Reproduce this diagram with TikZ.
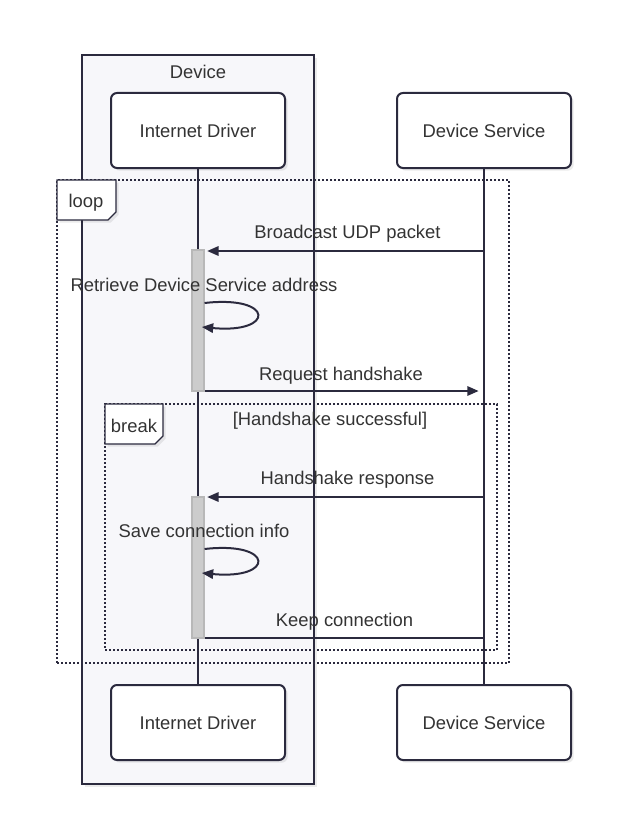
\documentclass[tikz,border=0pt]{standalone}
\usepackage{fontspec}
\setmainfont{Liberation Sans}
\usetikzlibrary{arrows.meta,shadows}
\definecolor{lc}{HTML}{2B2A3E}
\definecolor{tc}{HTML}{333333}
\definecolor{devfill}{HTML}{F7F7FA}
\definecolor{actfill}{HTML}{CCCCCC}
\definecolor{actdraw}{HTML}{B8B8B8}
\newcommand\fsz{\fontsize{13.8}{16.5}\selectfont}
\begin{document}
\begin{tikzpicture}[x=0.75pt,y=-0.75pt,
  softshadow/.style={drop shadow={shadow xshift=2pt,shadow yshift=-2pt,fill=black,opacity=0.08}},
  actorbox/.style={draw=lc, fill=white, line width=1.5pt, rounded corners=4.5pt,
    minimum width=130.5pt, minimum height=56.25pt, inner sep=0pt, font=\fsz, text=tc,
    text height=11pt, text depth=0pt, softshadow},
  devbox/.style={draw=lc, fill=devfill, line width=1.5pt, inner sep=0pt, softshadow},
  frame/.style={draw=lc, line width=1.5pt, dash pattern=on 1.5pt off 1.5pt, inner sep=0pt},
  tab/.style={draw=lc, fill=white, line width=1pt, softshadow},
  lbl/.style={font=\fsz, text=tc, inner sep=0pt, text height=11pt, text depth=0pt},
  lifeline/.style={draw=lc, line width=1.5pt},
  actbar/.style={draw=actdraw, fill=actfill, line width=0.8pt, minimum width=9pt, inner sep=0pt},
  msg/.style={draw=lc, line width=1.5pt, -{Triangle[length=8.5pt,width=7pt]}},
  plainmsg/.style={draw=lc, line width=1.5pt}
]
\useasboundingbox (0,0) rectangle (629,817);

% Device group box
\node[devbox, minimum width=174pt, minimum height=546.75pt] (dev) at (198,419.5) {};
\node[lbl] (devlbl) at (198,71.5) {Device};

% loop and break frames
\node[frame, minimum width=339pt, minimum height=362.25pt] (loopf) at (283,421.5) {};
\node[frame, minimum width=294pt, minimum height=184.5pt] (breakf) at (301,527) {};

% actors
\node[actorbox] (idt) at (198,130.5) {Internet Driver};
\node[actorbox] (dst) at (484,130.5) {Device Service};
\node[actorbox] (idb) at (198,722.5) {Internet Driver};
\node[actorbox] (dsb) at (484,722.5) {Device Service};

% lifelines
\draw[lifeline] (idt.south) -- (idb.north);
\draw[lifeline] (dst.south) -- (dsb.north);

% frame tabs
\draw[tab] (57,180) -- (116,180) -- (116,212) -- (108,220) -- (57,220) -- cycle;
\node[lbl] (looplbl) at (86,200) {loop};
\draw[tab] (105,404) -- (163,404) -- (163,436) -- (155,444) -- (105,444) -- cycle;
\node[lbl] (breaklbl) at (134,425) {break};
\node[lbl] (cond) at (330,418.5) {[Handshake successful]};

% activation bars
\node[actbar, minimum height=105.75pt] (act1) at (198,320.5) {};
\node[actbar, minimum height=105.75pt] (act2) at (198,567.5) {};

% messages
\draw[msg] (dst.south |- 0,251) -- ([xshift=2pt]act1.east |- 0,251);
\node[lbl] (m1) at (347.5,231.5) {Broadcast UDP packet};

\draw[msg] (act1.east |- 0,303) .. controls (275,295) and (275,334) .. ([xshift=-2pt]act1.east |- 0,327);
\node[lbl] (m2) at (204,284.5) {Retrieve Device Service address};

\draw[msg] (act1.east |- 0,391) -- ([xshift=-4pt]dst.south |- 0,391);
\node[lbl] (m3) at (341,373.5) {Request handshake};

\draw[msg] (dst.south |- 0,497) -- ([xshift=2pt]act2.east |- 0,497);
\node[lbl] (m4) at (347.5,477.5) {Handshake response};

\draw[msg] (act2.east |- 0,549) .. controls (275,541) and (275,580) .. ([xshift=-2pt]act2.east |- 0,573);
\node[lbl] (m5) at (204,530) {Save connection info};

\draw[plainmsg] (act2.east |- 0,638) -- (dst.south |- 0,638);
\node[lbl] (m6) at (344.5,619) {Keep connection};
\end{tikzpicture}
\end{document}
